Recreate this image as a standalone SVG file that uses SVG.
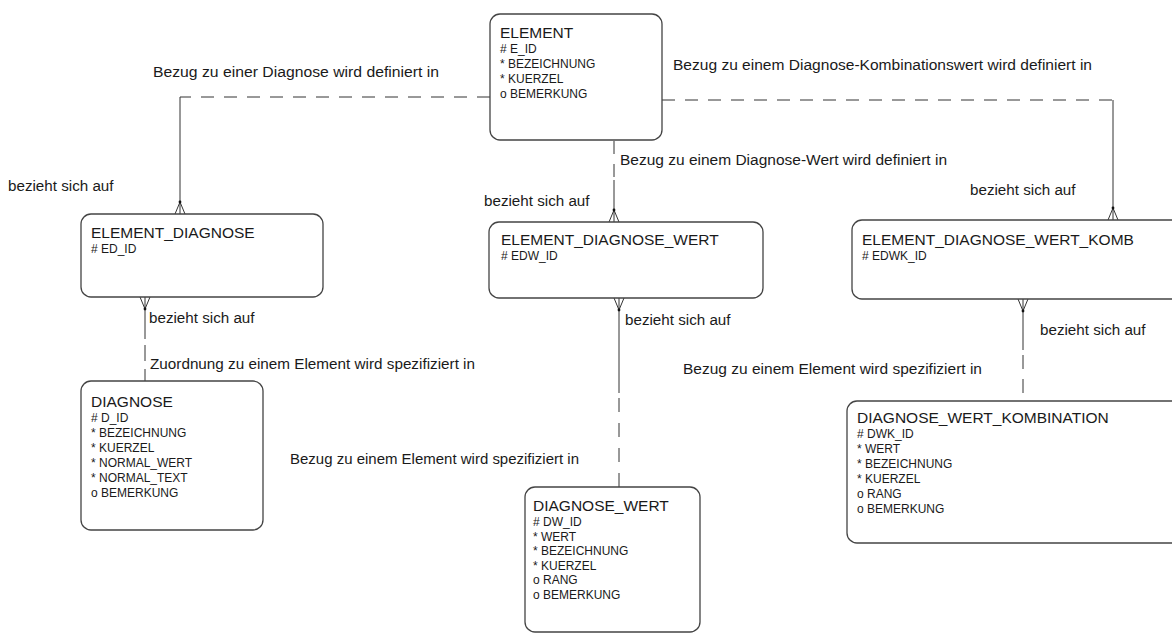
<svg xmlns="http://www.w3.org/2000/svg" width="1172" height="633" viewBox="0 0 1172 633">
<style>
.box{fill:#fff;stroke:#444;stroke-width:1.3}
.t{font-family:"Liberation Sans",Arial,sans-serif;font-size:15.5px;fill:#1a1a1a}
.a{font-family:"Liberation Sans",Arial,sans-serif;font-size:12px;fill:#1a1a1a}
.l{font-family:"Liberation Sans",Arial,sans-serif;font-size:15.2px;fill:#1a1a1a}
.s{fill:none;stroke:#333;stroke-width:1}
.d{fill:none;stroke:#333;stroke-width:1;stroke-dasharray:13 10}
.dot{fill:#111}
</style>
<rect width="1172" height="633" fill="#fff"/>
<g id="connectors">
  <path class="d" d="M490,97 H180"/>
  <path class="s" d="M180,97 V214 M180,202 L175,214 M180,202 L185,214"/>
  <circle class="dot" cx="180" cy="202" r="1.4"/>
  <path class="d" d="M614,141 V180"/>
  <path class="s" d="M614,180 V222 M614,210 L609,222 M614,210 L619,222"/>
  <circle class="dot" cx="614" cy="210" r="1.4"/>
  <path class="d" d="M662,100 H1113"/>
  <path class="s" d="M1113,100 V220 M1113,208 L1108,220 M1113,208 L1118,220"/>
  <circle class="dot" cx="1113" cy="208" r="1.4"/>
  <path class="s" d="M145,297 V339 M140,297 L145,309 L150,297"/>
  <circle class="dot" cx="145" cy="309" r="1.4"/>
  <path class="d" d="M145,345 V381" style="stroke-dasharray:16 8"/>
  <path class="s" d="M619,298 V393 M614,298 L619,310 L624,298"/>
  <circle class="dot" cx="619" cy="310" r="1.4"/>
  <path class="d" d="M619,398 V487" style="stroke-dasharray:14 11"/>
  <path class="s" d="M1023,299 V350 M1018,299 L1023,311 L1028,299"/>
  <circle class="dot" cx="1023" cy="311" r="1.4"/>
  <path class="d" d="M1023,355 V401" style="stroke-dasharray:14 10"/>
</g>
<g id="labels">
  <text class="l" x="153" y="77" textLength="286" lengthAdjust="spacingAndGlyphs">Bezug zu einer Diagnose wird definiert in</text>
  <text class="l" x="673" y="70" textLength="419" lengthAdjust="spacingAndGlyphs">Bezug zu einem Diagnose-Kombinationswert wird definiert in</text>
  <text class="l" x="620" y="165" textLength="327" lengthAdjust="spacingAndGlyphs">Bezug zu einem Diagnose-Wert wird definiert in</text>
  <text class="l" x="8" y="191">bezieht sich auf</text>
  <text class="l" x="484" y="206">bezieht sich auf</text>
  <text class="l" x="970" y="195">bezieht sich auf</text>
  <text class="l" x="149" y="323">bezieht sich auf</text>
  <text class="l" x="625" y="325">bezieht sich auf</text>
  <text class="l" x="1040" y="335">bezieht sich auf</text>
  <text class="l" x="150" y="369" textLength="325" lengthAdjust="spacingAndGlyphs">Zuordnung zu einem Element wird spezifiziert in</text>
  <text class="l" x="290" y="464" textLength="289" lengthAdjust="spacingAndGlyphs">Bezug zu einem Element wird spezifiziert in</text>
  <text class="l" x="683" y="374" textLength="299" lengthAdjust="spacingAndGlyphs">Bezug zu einem Element wird spezifiziert in</text>
</g>
<g id="ELEMENT">
  <rect class="box" x="490" y="14" width="172" height="126" rx="10"/>
  <text class="t" x="500" y="38">ELEMENT</text>
  <text class="a" x="500" y="53"># E_ID</text>
  <text class="a" x="500" y="68">* BEZEICHNUNG</text>
  <text class="a" x="500" y="83">* KUERZEL</text>
  <text class="a" x="500" y="98">o BEMERKUNG</text>
</g>
<g id="ELEMENT_DIAGNOSE">
  <rect class="box" x="81" y="214" width="242" height="83" rx="10"/>
  <text class="t" x="91" y="238">ELEMENT_DIAGNOSE</text>
  <text class="a" x="91" y="253"># ED_ID</text>
</g>
<g id="ELEMENT_DIAGNOSE_WERT">
  <rect class="box" x="489" y="222" width="274" height="76" rx="10"/>
  <text class="t" x="501" y="245">ELEMENT_DIAGNOSE_WERT</text>
  <text class="a" x="501" y="260"># EDW_ID</text>
</g>
<g id="ELEMENT_DIAGNOSE_WERT_KOMB">
  <rect class="box" x="852" y="220" width="340" height="79" rx="10"/>
  <text class="t" x="862" y="245">ELEMENT_DIAGNOSE_WERT_KOMB</text>
  <text class="a" x="862" y="260"># EDWK_ID</text>
</g>
<g id="DIAGNOSE">
  <rect class="box" x="81" y="381" width="182" height="149" rx="10"/>
  <text class="t" x="91" y="407">DIAGNOSE</text>
  <text class="a" x="91" y="422"># D_ID</text>
  <text class="a" x="91" y="437">* BEZEICHNUNG</text>
  <text class="a" x="91" y="452">* KUERZEL</text>
  <text class="a" x="91" y="467">* NORMAL_WERT</text>
  <text class="a" x="91" y="482">* NORMAL_TEXT</text>
  <text class="a" x="91" y="497">o BEMERKUNG</text>
</g>
<g id="DIAGNOSE_WERT">
  <rect class="box" x="525" y="487" width="175" height="145" rx="10"/>
  <text class="t" x="533" y="511">DIAGNOSE_WERT</text>
  <text class="a" x="533" y="526"># DW_ID</text>
  <text class="a" x="533" y="540.5">* WERT</text>
  <text class="a" x="533" y="555">* BEZEICHNUNG</text>
  <text class="a" x="533" y="569.5">* KUERZEL</text>
  <text class="a" x="533" y="584">o RANG</text>
  <text class="a" x="533" y="598.5">o BEMERKUNG</text>
</g>
<g id="DIAGNOSE_WERT_KOMBINATION">
  <rect class="box" x="847" y="401" width="345" height="142" rx="10"/>
  <text class="t" x="857" y="423">DIAGNOSE_WERT_KOMBINATION</text>
  <text class="a" x="857" y="438"># DWK_ID</text>
  <text class="a" x="857" y="453">* WERT</text>
  <text class="a" x="857" y="468">* BEZEICHNUNG</text>
  <text class="a" x="857" y="483">* KUERZEL</text>
  <text class="a" x="857" y="498">o RANG</text>
  <text class="a" x="857" y="513">o BEMERKUNG</text>
</g>
</svg>
